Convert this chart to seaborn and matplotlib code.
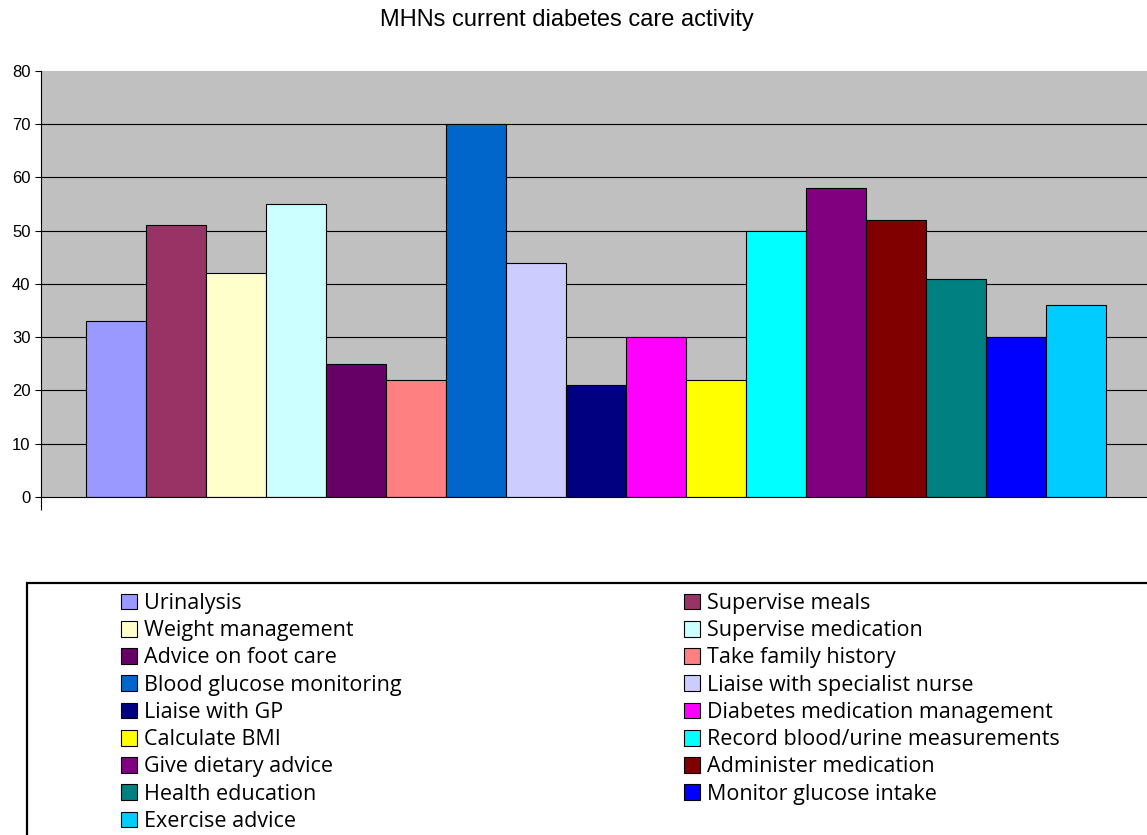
import matplotlib
matplotlib.use("Agg")
import matplotlib.pyplot as plt
from matplotlib.patches import Rectangle
import pandas as pd
import seaborn as sns

# Care activities reported by mental health nurses (number of respondents)
activities = [
    "Urinalysis", "Supervise meals", "Weight management", "Supervise medication",
    "Advice on foot care", "Take family history", "Blood glucose monitoring",
    "Liaise with specialist nurse", "Liaise with GP", "Diabetes medication management",
    "Calculate BMI", "Record blood/urine measurements", "Give dietary advice",
    "Administer medication", "Health education", "Monitor glucose intake",
    "Exercise advice",
]
counts = [33, 51, 42, 55, 25, 22, 70, 44, 21, 30, 22, 50, 58, 52, 41, 30, 36]
colors = [
    "#9999FF", "#993366", "#FFFFCC", "#CCFFFF", "#660066", "#FF8080", "#0066CC",
    "#CCCCFF", "#000080", "#FF00FF", "#FFFF00", "#00FFFF", "#800080", "#800000",
    "#008080", "#0000FF", "#00CCFF",
]
y_ticks = [0, 10, 20, 30, 40, 50, 60, 70, 80]

df = pd.DataFrame({"group": [""] * len(activities), "activity": activities, "count": counts})

sns.set_theme(style="white")
plt.rcParams["font.family"] = ["Liberation Sans", "DejaVu Sans"]
plt.rcParams["text.color"] = "black"
plt.rcParams["axes.labelcolor"] = "black"
plt.rcParams["xtick.color"] = "black"
plt.rcParams["ytick.color"] = "black"

W, H = 1147, 835
fig = plt.figure(figsize=(W / 100, H / 100), dpi=100)
fig.patch.set_facecolor("white")

ax = fig.add_axes([41 / W, 1 - 497 / H, (1151 - 41) / W, (497 - 71) / H])
ax.set_facecolor("#C0C0C0")

sns.barplot(
    data=df, x="group", y="count", hue="activity", hue_order=activities,
    palette=colors, width=0.8, gap=0, dodge=True, saturation=1,
    edgecolor="black", linewidth=0.8, errorbar=None, ax=ax, zorder=3,
)

half = 0.8 * 1110 / 1020 / 2
ax.set_xlim(-half, half)
ax.set_ylim(0, 80)
ax.set_yticks(y_ticks)
ax.set_yticklabels([str(t) for t in y_ticks], fontsize=12)
ax.set_xticks([-half])
ax.set_xticklabels([""])
ax.tick_params(axis="x", direction="out", length=9, width=0.8, color="black", bottom=True)
ax.tick_params(axis="y", direction="out", length=4.5, width=0.8, color="black",
               left=True, pad=3, labelcolor="black")
ax.set_xlabel("")
ax.set_ylabel("")

for y in y_ticks[1:-1]:
    ax.axhline(y, color="black", linewidth=0.8, zorder=1)

for side in ("top", "right"):
    ax.spines[side].set_visible(False)
for side in ("left", "bottom"):
    ax.spines[side].set_color("black")
    ax.spines[side].set_linewidth(0.8)
    ax.spines[side].set_zorder(4)

handles, labels = ax.get_legend_handles_labels()
ax.get_legend().remove()

fig.text(567 / W, 1 - 20 / H, "MHNs current diabetes care activity",
         ha="center", va="center", fontsize=17, color="black")

# Legend frame
fig.patches.append(Rectangle((27 / W, -0.05), 1.2, (835 - 582) / H + 0.05 - 0.001,
                             transform=fig.transFigure, facecolor="white",
                             edgecolor="black", linewidth=1.6, zorder=0))

leg_kw = dict(frameon=False, handlelength=0.75, handleheight=0.75,
              handletextpad=0.33, labelspacing=0.29, borderpad=0, borderaxespad=0,
              labelcolor="black",
              prop={"family": ["Open Sans", "DejaVu Sans"], "size": 15.5})
left_idx = list(range(0, len(activities), 2))
right_idx = list(range(1, len(activities), 2))
leg1 = fig.legend([handles[i] for i in left_idx], [labels[i] for i in left_idx],
                  loc="upper left", bbox_to_anchor=(121 / W, 1 - 593 / H), **leg_kw)
leg2 = fig.legend([handles[i] for i in right_idx], [labels[i] for i in right_idx],
                  loc="upper left", bbox_to_anchor=(684 / W, 1 - 593 / H), **leg_kw)

fig.savefig("out.png", dpi=100, facecolor="white")
